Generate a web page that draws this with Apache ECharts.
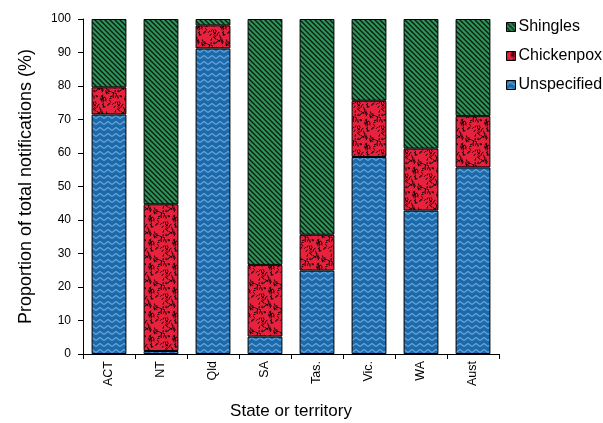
<!DOCTYPE html>
<html><head><meta charset="utf-8">
<script src="https://cdn.jsdelivr.net/npm/echarts@6/dist/echarts.min.js"></script>
<style>html,body{margin:0;padding:0;background:#fff}#c{width:603px;height:423px}</style>
</head><body><div id="c"></div>
<script>
var categories = ['ACT','NT','Qld','SA','Tas.','Vic.','WA','Aust'];
var unspecified = [71.5, 0.9, 91.2, 5.2, 24.9, 58.8, 42.8, 55.7];
var chickenpox  = [8.1, 43.8, 6.9, 21.4, 10.7, 16.8, 18.5, 15.3];
var shingles    = [20.4, 55.3, 1.9, 73.4, 64.4, 24.4, 38.7, 29.0];
var yTicks = [0,10,20,30,40,50,60,70,80,90,100];

function mkCanvas(w,h){var c=document.createElement('canvas');c.width=w;c.height=h;return c;}
function greenTile(){
  var c=mkCanvas(5,5),g=c.getContext('2d');
  g.fillStyle='#2e9358';g.fillRect(0,0,5,5);
  g.strokeStyle='#0a1a10';g.lineWidth=1.3;
  g.beginPath();g.moveTo(-1,-1);g.lineTo(6,6);g.moveTo(-1,4);g.lineTo(1,6);g.moveTo(4,-1);g.lineTo(6,1);g.stroke();
  return c;
}
function blueTile(){
  var c=mkCanvas(8,6),g=c.getContext('2d');
  g.fillStyle='#1d6aab';g.fillRect(0,0,8,6);
  g.strokeStyle='#6aa6dc';g.lineWidth=1.1;
  g.beginPath();g.moveTo(0,4.5);g.lineTo(4,1.5);g.lineTo(8,4.5);g.stroke();
  return c;
}
function redTile(){
  var c=mkCanvas(24,24),g=c.getContext('2d');
  g.fillStyle='#e8213d';g.fillRect(0,0,24,24);
  g.strokeStyle='#1a0508';g.lineWidth=1;
  var s=4321;function r(){s=(s*1103515245+12345)%2147483648;return s/2147483648;}
  g.beginPath();
  for(var i=0;i<58;i++){
    var x=r()*24,y=r()*24,a=r()*Math.PI,l=2+r()*1.5;
    var dx=Math.cos(a)*l/2,dy=Math.sin(a)*l/2;
    for(var ox=-24;ox<=24;ox+=24)for(var oy=-24;oy<=24;oy+=24){
      g.moveTo(x-dx+ox,y-dy+oy);g.lineTo(x+dx+ox,y+dy+oy);}
  }
  g.stroke();
  return c;
}
var greenP={image:greenTile(),repeat:'repeat'};
var blueP={image:blueTile(),repeat:'repeat'};
var redP={image:redTile(),repeat:'repeat'};

var font='Liberation Sans, Arial, sans-serif';
function ser(name,data,pat){
  return {name:name,type:'bar',stack:'s',data:data,barCategoryGap:'33%',
    itemStyle:{color:pat,borderColor:'#000',borderWidth:1},
    emphasis:{disabled:true}};
}
var chart=echarts.init(document.getElementById('c'),null,{renderer:'canvas'});
chart.setOption({
  animation:false,
  grid:{left:83,right:104,top:19,bottom:69,containLabel:false,outerBoundsMode:'none'},
  legend:{orient:'vertical',left:506,top:19,padding:0,itemWidth:9,itemHeight:9,itemGap:13,
    icon:'rect',data:['Shingles','Chickenpox','Unspecified'],
    textStyle:{fontFamily:font,fontSize:16,color:'#000',padding:[0,0,0,-2]},
    itemStyle:{borderColor:'#000',borderWidth:1}},
  xAxis:{type:'category',data:categories,
    name:'State or territory',nameLocation:'middle',nameGap:49,
    nameTextStyle:{fontFamily:font,fontSize:17,color:'#000'},
    axisLine:{lineStyle:{color:'#000',width:1}},
    axisTick:{show:true,length:5,lineStyle:{color:'#000'}},
    axisLabel:{rotate:90,fontFamily:font,fontSize:12.5,color:'#000',margin:7}},
  yAxis:{type:'value',min:0,max:100,interval:10,
    name:'Proportion of total notifications (%)',nameLocation:'middle',nameGap:48,
    nameTextStyle:{fontFamily:font,fontSize:18,color:'#000'},
    axisLine:{show:true,lineStyle:{color:'#000',width:1}},
    axisTick:{show:true,length:5,lineStyle:{color:'#000'}},
    splitLine:{show:false},
    axisLabel:{fontFamily:font,fontSize:12,color:'#000',margin:12,
      formatter:function(v){return yTicks.indexOf(v)>=0?String(v):'';}}},
  series:[ser('Unspecified',unspecified,blueP),ser('Chickenpox',chickenpox,redP),ser('Shingles',shingles,greenP)]
});
</script></body></html>
